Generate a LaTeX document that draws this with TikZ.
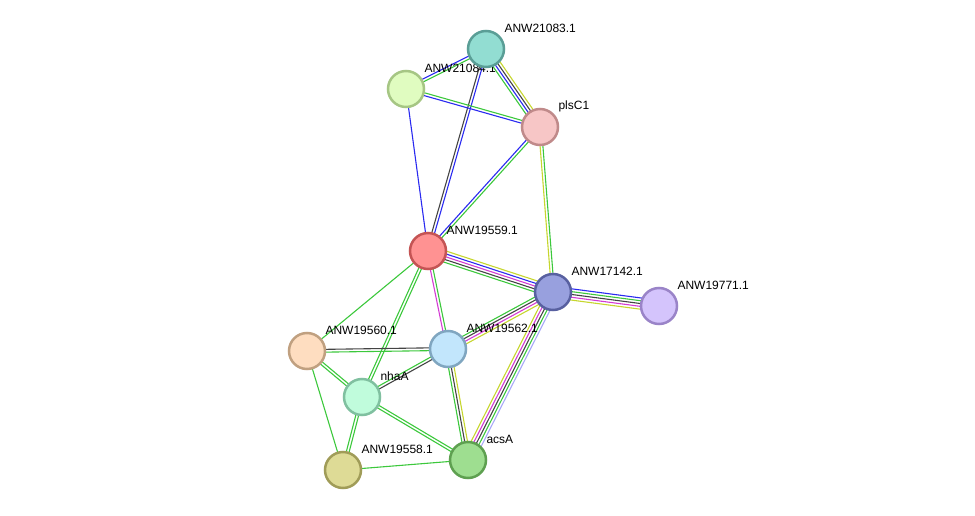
\documentclass[tikz,border=0pt]{standalone}
\usepackage{fontspec}
\setmainfont{Liberation Sans}
\usetikzlibrary{calc}
\pgfdeclarelayer{edges}
\pgfdeclarelayer{texts}
\pgfsetlayers{edges,texts,main}
\definecolor{cgreen}{HTML}{3CC83C}
\definecolor{cblue}{HTML}{2A2AF0}
\definecolor{cgray}{HTML}{444444}
\definecolor{cyell}{HTML}{C6D62E}
\definecolor{cmag}{HTML}{D43CD4}
\definecolor{clblue}{HTML}{A8A8F8}
\tikzset{
  prot/.style 2 args={circle,draw=#2,fill=#1,line width=2.5pt,minimum size=36pt,inner sep=0pt},
  lbl/.style={anchor=west,font=\fontsize{12}{14}\selectfont,inner sep=0pt},
  every path/.append style={line width=1.1pt}
}
% parallel coloured lines between two proteins
\newcommand\bondlines[4]{%
  \foreach \c [count=\i] in {#4}{
    \pgfmathsetmacro\off{(\i-(#3+1)/2)*2.8}
    \draw[\c]($(#1.center)!\off pt!90:(#2.center)$)--($(#2.center)!\off pt!-90:(#1.center)$);
  }}
\begin{document}
\begin{tikzpicture}[x=1pt,y=-1pt]
  \useasboundingbox (0,0) rectangle (975,516);
  \foreach \n/\x/\y/\f/\d/\t in {
      a21083/486/49/92DDD2/5A9E96/ANW21083.1,
      a21084/406/89/E0FCC0/A6C684/ANW21084.1,
      plsC/540/127/F7C6C6/C08A8A/plsC1,
      a19559/428/251/FF9292/C45454/ANW19559.1,
      a17142/553/292/98A0DE/5860A0/ANW17142.1,
      a19771/659/306/D4C4FC/9A84C8/ANW19771.1,
      a19560/307/351/FEDDC0/C0A080/ANW19560.1,
      a19562/448/349/C2E6FC/80A6C0/ANW19562.1,
      nhaA/362/397/C0FCDC/80C0A0/nhaA,
      acsA/468/460/9EDE90/5EA050/acsA,
      a19558/343/470/DEDB96/A09C58/ANW19558.1}{
    \definecolor{f\n}{HTML}{\f}\definecolor{d\n}{HTML}{\d}
    \node[prot={f\n}{d\n}](\n)at(\x,\y){};
    \begin{pgfonlayer}{texts}
      \node[lbl]at(\x+18,\y-21){\t};
    \end{pgfonlayer}
  }
  \begin{pgfonlayer}{edges}
    \bondlines{a21083}{a21084}{2}{cblue,cgreen}
    \bondlines{a21083}{plsC}{4}{cgreen,cblue,cgray,cyell}
    \bondlines{a21083}{a19559}{2}{cgray,cblue}
    \bondlines{a21084}{plsC}{2}{cblue,cgreen}
    \bondlines{a21084}{a19559}{1}{cblue}
    \bondlines{plsC}{a19559}{2}{cblue,cgreen}
    \bondlines{plsC}{a17142}{2}{cyell,cgreen}
    \bondlines{a19559}{a17142}{5}{cgreen,cgray,cmag,cblue,cyell}
    \bondlines{a19559}{a19562}{2}{cmag,cgreen}
    \bondlines{a19559}{a19560}{1}{cgreen}
    \bondlines{a19559}{nhaA}{2}{cgreen,cgreen}
    \bondlines{a17142}{a19771}{5}{cyell,cmag,cgray,cgreen,cblue}
    \bondlines{a17142}{a19562}{4}{cgreen,cgray,cmag,cyell}
    \bondlines{a17142}{acsA}{5}{cyell,cmag,cgray,cgreen,clblue}
    \bondlines{a19560}{a19562}{2}{cgreen,cgray}
    \bondlines{a19560}{nhaA}{2}{cgreen,cgreen}
    \bondlines{a19560}{a19558}{1}{cgreen}
    \bondlines{a19562}{nhaA}{2}{cgreen,cgray}
    \bondlines{a19562}{acsA}{3}{cgreen,cgray,cyell}
    \bondlines{nhaA}{acsA}{2}{cgreen,cgreen}
    \bondlines{nhaA}{a19558}{2}{cgreen,cgreen}
    \bondlines{a19558}{acsA}{1}{cgreen}
  \end{pgfonlayer}
\end{tikzpicture}
\end{document}
